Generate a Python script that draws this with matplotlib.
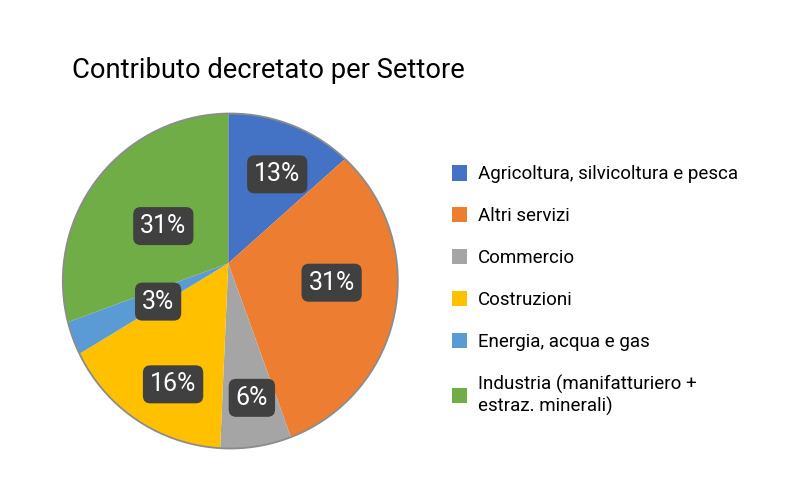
import matplotlib
matplotlib.use("Agg")
import matplotlib.pyplot as plt
import numpy as np
from matplotlib.patches import Circle

categories = ["Agricoltura, silvicoltura e pesca", "Altri servizi", "Commercio",
              "Costruzioni", "Energia, acqua e gas",
              "Industria (manifatturiero +\nestraz. minerali)"]
values = [13.4, 31.1, 6.2, 15.6, 3.1, 30.6]
colors = ["#4472C4", "#ED7D31", "#A5A5A5", "#FFC000", "#5B9BD5", "#70AD47"]
title = "Contributo decretato per Settore"

plt.rcParams['font.family'] = ['Roboto', 'DejaVu Sans']
W, H = 800, 500
fig = plt.figure(figsize=(8, 5), dpi=100)
R = 167.5
cx, cy = 230.3, 281
lim = 1.01
ax = fig.add_axes([(cx - R * lim) / W, (H - cy - R * lim) / H, 2 * R * lim / W, 2 * R * lim / H])

vertex = (-0.012, 0.106)
wedges, _ = ax.pie(values, colors=colors, startangle=90, counterclock=False,
                   center=vertex, radius=1.4, wedgeprops=dict(linewidth=0))
outline = Circle((0, 0), 1, facecolor='none', edgecolor="#8c8c8c", linewidth=1.3, zorder=5)
ax.add_patch(outline)
for w in wedges:
    w.set_clip_on(True)
    w.set_clip_path(outline)
ax.set_xlim(-lim, lim)
ax.set_ylim(-lim, lim)
ax.set_aspect('equal')
ax.axis('off')

total = sum(values)
label_dist = [0.62, 0.625, 0.80, 0.78, 0.47, 0.455]
label_turn = [-4.0, 5.0, 1.5, 5.6, 1.2, 3.4]
for w, v, d, t in zip(wedges, values, label_dist, label_turn):
    th = np.deg2rad((w.theta1 + w.theta2) / 2 + t)
    x = vertex[0] + d * np.cos(th)
    y = vertex[1] + d * np.sin(th) - 0.016
    ax.text(x, y, f"{round(v / total * 100)}%", ha='center', va='center',
            color='white', fontsize=18, zorder=6,
            bbox=dict(boxstyle='round,pad=0.28,rounding_size=0.3', fc='#404040', ec='none'))

fig.text(72 / W, 1 - 70.7 / H, title, va='center', ha='left', fontsize=19.75, color='#000000')

leg = fig.legend(wedges, categories, loc='upper left',
                 bbox_to_anchor=(451.7 / W, 1 - 165 / H), frameon=False,
                 borderpad=0, borderaxespad=0, fontsize=13.5,
                 handlelength=0.83, handleheight=0.9, handletextpad=0.58,
                 labelspacing=1.26)
for t in leg.get_texts():
    t.set_color('#000000')

fig.savefig("out.png", dpi=100, facecolor='white')
